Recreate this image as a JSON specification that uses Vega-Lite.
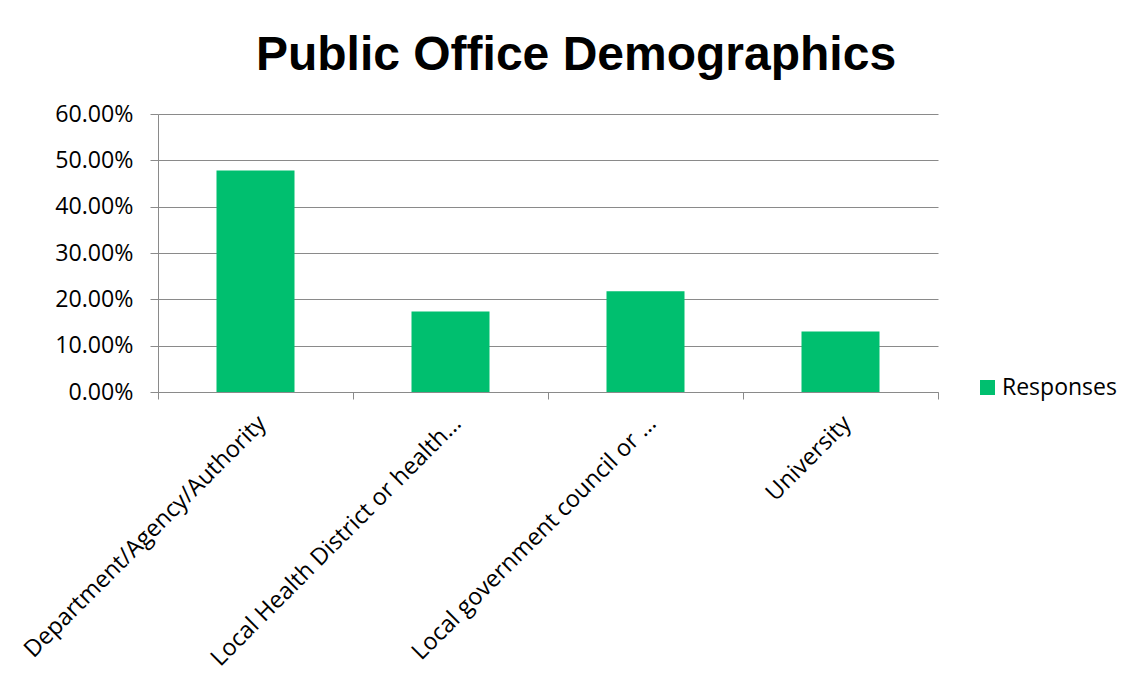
{
  "$schema": "https://vega.github.io/schema/vega-lite/v6.json",
  "width": 780,
  "height": 278,
  "autosize": {"type": "none"},
  "padding": {"left": 158, "top": 114, "right": 188, "bottom": 289},
  "background": "white",
  "title": {
    "text": "Public Office Demographics",
    "font": "Liberation Sans",
    "fontSize": 48,
    "fontWeight": "bold",
    "color": "#000000",
    "anchor": "middle",
    "dx": 28,
    "offset": 22
  },
  "data": {
    "values": [
      {"category": "Department/Agency/Authority", "value": 0.4783, "series": "Responses"},
      {"category": "Local Health District or health…", "value": 0.1739, "series": "Responses"},
      {"category": "Local government council or …", "value": 0.2174, "series": "Responses"},
      {"category": "University", "value": 0.1304, "series": "Responses"}
    ]
  },
  "mark": {"type": "bar", "width": {"band": 0.4}},
  "encoding": {
    "x": {
      "field": "category",
      "type": "nominal",
      "sort": null,
      "scale": {"paddingInner": 0, "paddingOuter": 0},
      "axis": {
        "title": null,
        "labelAngle": -45,
        "labelFont": "Open Sans",
        "labelFontSize": 23.5,
        "labelColor": "#000000",
        "labelLimit": 0,
        "labelPadding": 12,
        "labelOffset": -2,
        "domainColor": "#8a8a8a",
        "tickColor": "#8a8a8a",
        "tickSize": 7,
        "tickBand": "extent",
        "grid": false
      }
    },
    "y": {
      "field": "value",
      "type": "quantitative",
      "scale": {"domain": [0, 0.6], "nice": false},
      "axis": {
        "title": null,
        "format": ".2%",
        "values": [0, 0.1, 0.2, 0.3, 0.4, 0.5, 0.6],
        "labelFont": "Open Sans",
        "labelFontSize": 23.2,
        "labelColor": "#000000",
        "labelPadding": 17,
        "tickSize": 8,
        "tickColor": "#8a8a8a",
        "domainColor": "#8a8a8a",
        "gridColor": "#8a8a8a",
        "grid": true
      }
    },
    "color": {
      "field": "series",
      "type": "nominal",
      "scale": {"range": ["#00BF6F"]},
      "legend": {
        "title": null,
        "orient": "none",
        "legendX": 818,
        "legendY": 262,
        "symbolType": "square",
        "symbolSize": 225,
        "symbolStrokeWidth": 0,
        "labelFont": "Open Sans",
        "labelFontSize": 23,
        "labelColor": "#000000",
        "labelOffset": 3
      }
    }
  },
  "config": {
    "view": {"stroke": null}
  }
}
